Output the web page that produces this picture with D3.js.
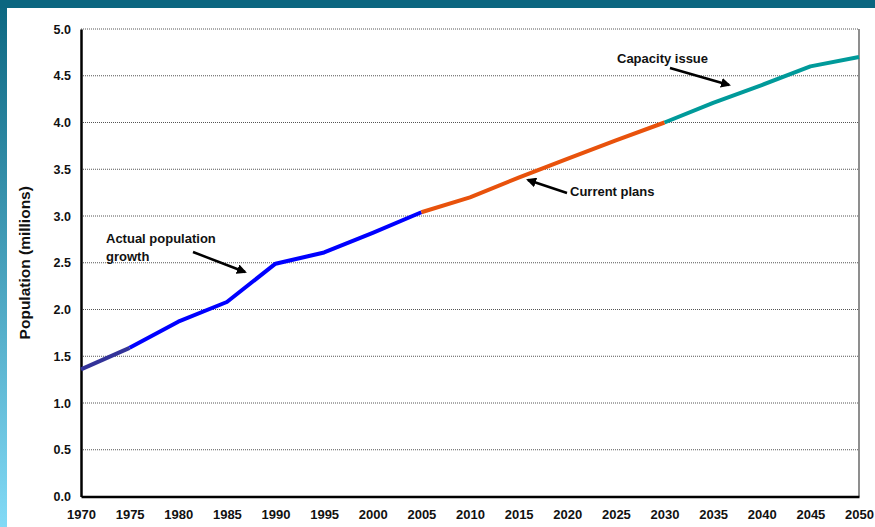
<!DOCTYPE html>
<html>
<head>
<meta charset="utf-8">
<script src="https://cdn.jsdelivr.net/npm/d3@7"></script>
<style>
  html, body { margin: 0; padding: 0; background: #fff; }
  svg text { font-family: Arial, "Liberation Sans", sans-serif; font-weight: bold; fill: #111; }
</style>
</head>
<body>
<svg id="chart" width="875" height="527"></svg>
<script>
// population series, millions
const years = [1970, 1975, 1980, 1985, 1990, 1995, 2000, 2005, 2010, 2015, 2020, 2025, 2030, 2035, 2040, 2045, 2050];
const population = [1.36, 1.59, 1.87, 2.08, 2.49, 2.61, 2.82, 3.04, 3.20, 3.41, 3.61, 3.81, 4.00, 4.21, 4.40, 4.60, 4.70];
const yTicks = [0, 0.5, 1, 1.5, 2, 2.5, 3, 3.5, 4, 4.5, 5];
const xTicks = years;

// colour segments: [from year, to year, colour]
const segments = [
  [1970, 1975, '#333399'],
  [1975, 2005, '#0000ff'],
  [2005, 2030, '#e8520c'],
  [2030, 2050, '#009a9a']
];

const svg = d3.select('#chart');
const W = 875, H = 527;

// slide background: teal band top, gradient band left
const defs = svg.append('defs');
const grad = defs.append('linearGradient').attr('id', 'sideGrad')
  .attr('x1', 0).attr('y1', 0).attr('x2', 0).attr('y2', 1);
grad.append('stop').attr('offset', '0%').attr('stop-color', '#0b6680');
grad.append('stop').attr('offset', '100%').attr('stop-color', '#82daf6');
svg.append('rect').attr('x', 0).attr('y', 0).attr('width', 7).attr('height', H).attr('fill', 'url(#sideGrad)');
svg.append('rect').attr('x', 0).attr('y', 0).attr('width', W).attr('height', 8).attr('fill', '#0b6680');

const x = d3.scaleLinear().domain([1970, 2050]).range([81, 859]);
const y = d3.scaleLinear().domain([0, 5]).range([496.5, 29]);

// gridlines
svg.append('g').selectAll('line.grid')
  .data(yTicks.filter(d => d > 0))
  .enter().append('line')
  .attr('class', 'grid')
  .attr('x1', x(1970)).attr('x2', x(2050))
  .attr('y1', d => y(d)).attr('y2', d => y(d))
  .attr('stroke', '#555').attr('stroke-width', 1)
  .attr('stroke-dasharray', '1,1');

// right border
svg.append('line')
  .attr('x1', x(2050)).attr('x2', x(2050))
  .attr('y1', y(5)).attr('y2', y(0))
  .attr('stroke', '#444').attr('stroke-width', 1.2);

// axes
const yAxis = d3.axisLeft(y).tickValues(yTicks).tickFormat(d3.format('.1f')).tickSize(0).tickPadding(10);
const xAxis = d3.axisBottom(x).tickValues(xTicks).tickFormat(d3.format('d')).tickSize(0).tickPadding(13);

const gy = svg.append('g').attr('transform', `translate(${x(1970)},0)`).call(yAxis);
const gx = svg.append('g').attr('transform', `translate(0,${y(0)})`).call(xAxis);
gy.select('.domain').attr('stroke', '#000').attr('stroke-width', 2.5);
gx.select('.domain').attr('stroke', '#000').attr('stroke-width', 2.5);
gy.selectAll('text').style('font-size', '12.5px').style('fill', '#111');
gx.selectAll('text').style('font-size', '13px').style('fill', '#111');

svg.append('text')
  .attr('transform', `translate(30,${(y(5) + y(0)) / 2}) rotate(-90)`)
  .attr('text-anchor', 'middle')
  .style('font-size', '15.5px')
  .text('Population (millions)');

// line segments
const line = d3.line().x(d => x(d[0])).y(d => y(d[1]));
const pts = years.map((yr, i) => [yr, population[i]]);
segments.forEach(([a, b, c]) => {
  svg.append('path')
    .datum(pts.filter(p => p[0] >= a && p[0] <= b))
    .attr('d', line)
    .attr('fill', 'none')
    .attr('stroke', c)
    .attr('stroke-width', 4)
    .attr('stroke-linejoin', 'round');
});

// annotations with arrows
defs.append('marker').attr('id', 'arrow')
  .attr('viewBox', '0 0 10 10').attr('refX', 8).attr('refY', 5)
  .attr('markerWidth', 4).attr('markerHeight', 4).attr('orient', 'auto')
  .append('path').attr('d', 'M0,0 L10,5 L0,10 z').attr('fill', '#000');

const notes = [
  {lines: ['Actual population', 'growth'], tx: 106, ty: 243, from: [193, 252], to: [245, 272]},
  {lines: ['Current plans'], tx: 570, ty: 196, from: [567, 193], to: [528, 180]},
  {lines: ['Capacity issue'], tx: 617, ty: 63, from: [670, 68], to: [729, 85]}
];
notes.forEach(n => {
  const t = svg.append('text').attr('x', n.tx).attr('y', n.ty).style('font-size', '13px');
  n.lines.forEach((l, i) => t.append('tspan').attr('x', n.tx).attr('dy', i ? 18 : 0).text(l));
  svg.append('line')
    .attr('x1', n.from[0]).attr('y1', n.from[1])
    .attr('x2', n.to[0]).attr('y2', n.to[1])
    .attr('stroke', '#000').attr('stroke-width', 2.5)
    .attr('marker-end', 'url(#arrow)');
});
</script>
</body>
</html>
